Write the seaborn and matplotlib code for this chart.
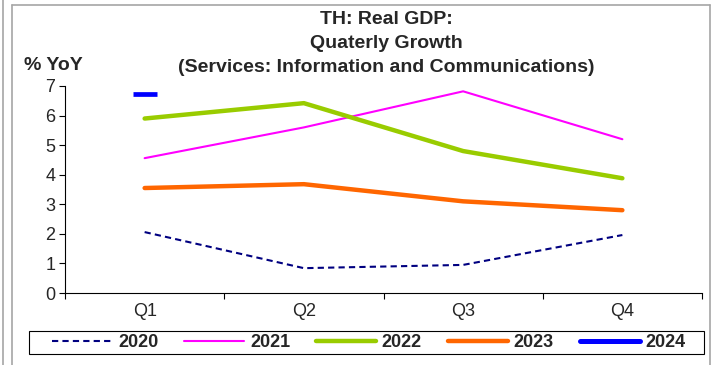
import matplotlib
matplotlib.use("Agg")
import matplotlib.pyplot as plt
import seaborn as sns
import pandas as pd
from matplotlib.lines import Line2D
from matplotlib.patches import Rectangle

quarters = ["Q1", "Q2", "Q3", "Q4"]
y2020 = [2.06, 0.84, 0.95, 1.96]
y2021 = [4.56, 5.60, 6.82, 5.20]
y2022 = [5.90, 6.42, 4.80, 3.88]
y2023 = [3.55, 3.68, 3.10, 2.80]
y2024 = [6.72]
yticks = [0, 1, 2, 3, 4, 5, 6, 7]

series = {"2020": y2020, "2021": y2021, "2022": y2022, "2023": y2023, "2024": y2024}
rows = []
for yr, vals in series.items():
    for i, v in enumerate(vals):
        rows.append({"year": yr, "q": i, "value": v})
df = pd.DataFrame(rows)

sns.set_theme(style="white")
plt.rcParams["font.family"] = ["Liberation Sans", "DejaVu Sans"]

W, H = 712, 365
fig = plt.figure(figsize=(W / 100, H / 100), dpi=100)
ax = fig.add_axes([65 / W, 1 - 293 / H, (702 - 65) / W, (293 - 86) / H])

styles = {
    "2020": dict(color="#000080", lw=1.5, ls=(0, (3, 2))),
    "2021": dict(color="#FF00FF", lw=1.5, ls="-"),
    "2022": dict(color="#99CC00", lw=3.2, ls="-"),
    "2023": dict(color="#FF6600", lw=3.2, ls="-"),
    "2024": dict(color="#0000FF", lw=3.6, ls="-"),
}

for yr in series:
    d = df[df["year"] == yr]
    st = styles[yr]
    if yr == "2024":
        sns.scatterplot(data=d, x="q", y="value", ax=ax, color=st["color"], marker="_",
                        s=17 ** 2, linewidth=3.4, legend=False, zorder=5)
    else:
        sns.lineplot(data=d, x="q", y="value", ax=ax, color=st["color"], lw=st["lw"],
                     linestyle=st["ls"], legend=False)

ax.set_xlim(-0.5, 3.5)
ax.set_ylim(0, 7)
ax.set_xlabel("")
ax.set_ylabel("")
ax.set_xticks([-0.5, 0.5, 1.5, 2.5, 3.5])
ax.set_xticklabels([])
ax.set_xticks([0, 1, 2, 3], minor=True)
ax.set_xticklabels(quarters, minor=True, fontsize=13)
ax.tick_params(axis="x", which="major", length=4, width=0.8, color="black", direction="out", bottom=True)
ax.tick_params(axis="x", which="minor", length=0, pad=7)
ax.set_yticks(yticks)
ax.set_yticklabels([str(t) for t in yticks], fontsize=13)
ax.tick_params(axis="y", length=4, width=0.8, color="black", direction="out", left=True, pad=3)
for s in ["top", "right"]:
    ax.spines[s].set_visible(False)
for s in ["left", "bottom"]:
    ax.spines[s].set_color("black")
    ax.spines[s].set_linewidth(0.8)
ax.grid(False)
ax.set_facecolor("white")

# Title
tx = 386 / W
fig.text(tx, 1 - 20 / H, "TH: Real GDP:", ha="center", va="center", fontsize=14, fontweight="bold")
fig.text(tx, 1 - 44 / H, "Quaterly Growth", ha="center", va="center", fontsize=14, fontweight="bold")
fig.text(tx, 1 - 67 / H, "(Services: Information and Communications)", ha="center", va="center",
         fontsize=14, fontweight="bold")
fig.text(24 / W, 1 - 66 / H, "% YoY", ha="left", va="center", fontsize=14, fontweight="bold")

# Legend
handles = [Line2D([0], [0], color=styles[y]["color"], lw=styles[y]["lw"], ls=styles[y]["ls"],
                  solid_capstyle="round") for y in series]
leg = fig.legend(handles, list(series.keys()), loc="center",
                 bbox_to_anchor=(369 / W, 1 - 342.5 / H),
                 ncol=5, frameon=False,
                 prop={"weight": "bold", "size": 13}, handlelength=3.3, handletextpad=0.33,
                 borderpad=0, borderaxespad=0, columnspacing=1.45)
fig.add_artist(Rectangle((29 / W, 1 - 354 / H), (704 - 29) / W, 23 / H, transform=fig.transFigure,
                         fill=False, edgecolor="black", lw=0.8))

# Outer frame
gray = "#a6a6a6"
fig.add_artist(Line2D([3 / W, 3 / W], [0, 1], color=gray, lw=1.2, transform=fig.transFigure))
fig.add_artist(Line2D([12 / W, 12 / W], [0, 1 - 5 / H], color=gray, lw=1.2, transform=fig.transFigure))
fig.add_artist(Line2D([12 / W, 710 / W], [1 - 5 / H, 1 - 5 / H], color=gray, lw=1.2, transform=fig.transFigure))
fig.add_artist(Line2D([710 / W, 710 / W], [0, 1 - 5 / H], color=gray, lw=1.2, transform=fig.transFigure))

fig.savefig("out.png", dpi=100, facecolor="white")
